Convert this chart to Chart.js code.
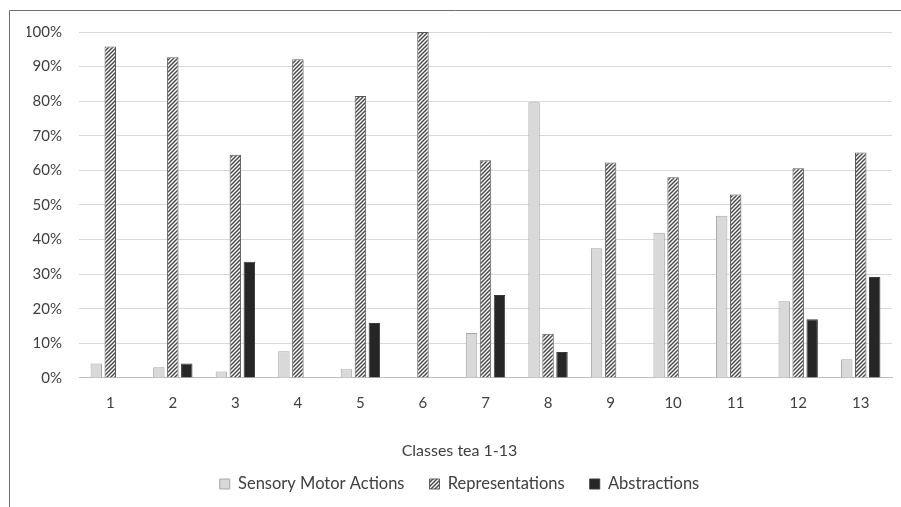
<!DOCTYPE html>
<html>
<head>
<meta charset="utf-8">
<script src="https://cdn.jsdelivr.net/npm/chart.js@4/dist/chart.umd.min.js"></script>
<style>
  html, body { margin: 0; padding: 0; background: #ffffff; }
  #wrap { position: relative; width: 901px; height: 507px; }
  canvas { display: block; }
</style>
</head>
<body>
<div id="wrap"><canvas id="chart" width="901" height="507"></canvas></div>
<script>
// Share of each activity type per class (percent)
const classes = ['1','2','3','4','5','6','7','8','9','10','11','12','13'];
const sensoryMotor    = [4.2, 3.1, 1.9, 7.7, 2.5, 0, 13.0, 79.7, 37.5, 42.0, 46.9, 22.2, 5.4];
const representations = [95.8, 92.7, 64.5, 92.1, 81.5, 100, 62.9, 12.8, 62.3, 58.0, 53.0, 60.6, 65.2];
const abstractions    = [0, 4.2, 33.6, 0, 15.9, 0, 24.0, 7.5, 0, 0, 0, 17.0, 29.2];
const seriesNames = ['Sensory Motor Actions', 'Representations', 'Abstractions'];
const yTicks = [0, 10, 20, 30, 40, 50, 60, 70, 80, 90, 100];
const xTitle = 'Classes tea 1-13';

// Diagonal hatch fill for the "Representations" series
function makeHatch() {
  const size = 4;
  const c = document.createElement('canvas');
  c.width = size; c.height = size;
  const g = c.getContext('2d');
  g.fillStyle = '#ffffff';
  g.fillRect(0, 0, size, size);
  g.strokeStyle = '#4a4a4a';
  g.lineWidth = 1.5;
  g.beginPath();
  g.moveTo(0, size); g.lineTo(size, 0);
  g.moveTo(-1, 1); g.lineTo(1, -1);
  g.moveTo(size - 1, size + 1); g.lineTo(size + 1, size - 1);
  g.stroke();
  return document.getElementById('chart').getContext('2d').createPattern(c, 'repeat');
}
const hatch = makeHatch();

// Frame lines along the top and left edges
const framePlugin = {
  id: 'frame',
  afterDraw(chart) {
    const ctx = chart.ctx;
    ctx.save();
    ctx.strokeStyle = '#6f6f6f';
    ctx.lineWidth = 1;
    ctx.beginPath();
    ctx.moveTo(9.5, 507);
    ctx.lineTo(9.5, 10.5);
    ctx.lineTo(901, 10.5);
    ctx.stroke();
    ctx.restore();
  }
};

const FONT = 'Lato, "Open Sans", sans-serif';

new Chart(document.getElementById('chart'), {
  type: 'bar',
  data: {
    labels: classes,
    datasets: [
      {
        label: seriesNames[0],
        data: sensoryMotor,
        backgroundColor: '#d9d9d9',
        borderColor: '#a6a6a6',
        borderWidth: 1
      },
      {
        label: seriesNames[1],
        data: representations,
        backgroundColor: hatch,
        borderColor: '#5a5a5a',
        borderWidth: 1
      },
      {
        label: seriesNames[2],
        data: abstractions,
        backgroundColor: '#262626',
        borderColor: '#3a3a3a',
        borderWidth: 1
      }
    ]
  },
  options: {
    responsive: false,
    animation: false,
    devicePixelRatio: 1,
    categoryPercentage: 0.67,
    barPercentage: 0.82,
    layout: { padding: { top: 32, right: 9, left: 27, bottom: 4.75 } },
    plugins: {
      tooltip: { enabled: false },
      title: {
        display: true,
        position: 'bottom',
        weight: 500,
        text: xTitle,
        color: '#404040',
        font: { family: FONT, size: 16, weight: 'normal', lineHeight: 0.01 },
        padding: { top: 0, bottom: 0 }
      },
      legend: {
        position: 'bottom',
        labels: {
          boxWidth: 10,
          boxHeight: 10,
          padding: 25,
          color: '#404040',
          font: { family: FONT, size: 16.5 }
        }
      }
    },
    scales: {
      x: {
        grid: { display: false, drawTicks: false },
        border: { display: true, color: '#bfbfbf', width: 1 },
        ticks: {
          color: '#404040',
          padding: 16,
          font: { family: FONT, size: 15 }
        },
        afterFit(scale) { scale.height = 72.6; }
      },
      y: {
        min: 0,
        max: 100,
        afterBuildTicks(scale) { scale.ticks = yTicks.map(v => ({ value: v })); },
        grid: { color: '#d9d9d9', lineWidth: 1, drawTicks: false },
        border: { display: false },
        ticks: {
          color: '#404040',
          padding: 17,
          font: { family: FONT, size: 15 },
          callback: v => v + '%'
        },
        afterFit(scale) { scale.width = 52; }
      }
    }
  },
  plugins: [framePlugin]
});
</script>
</body>
</html>
